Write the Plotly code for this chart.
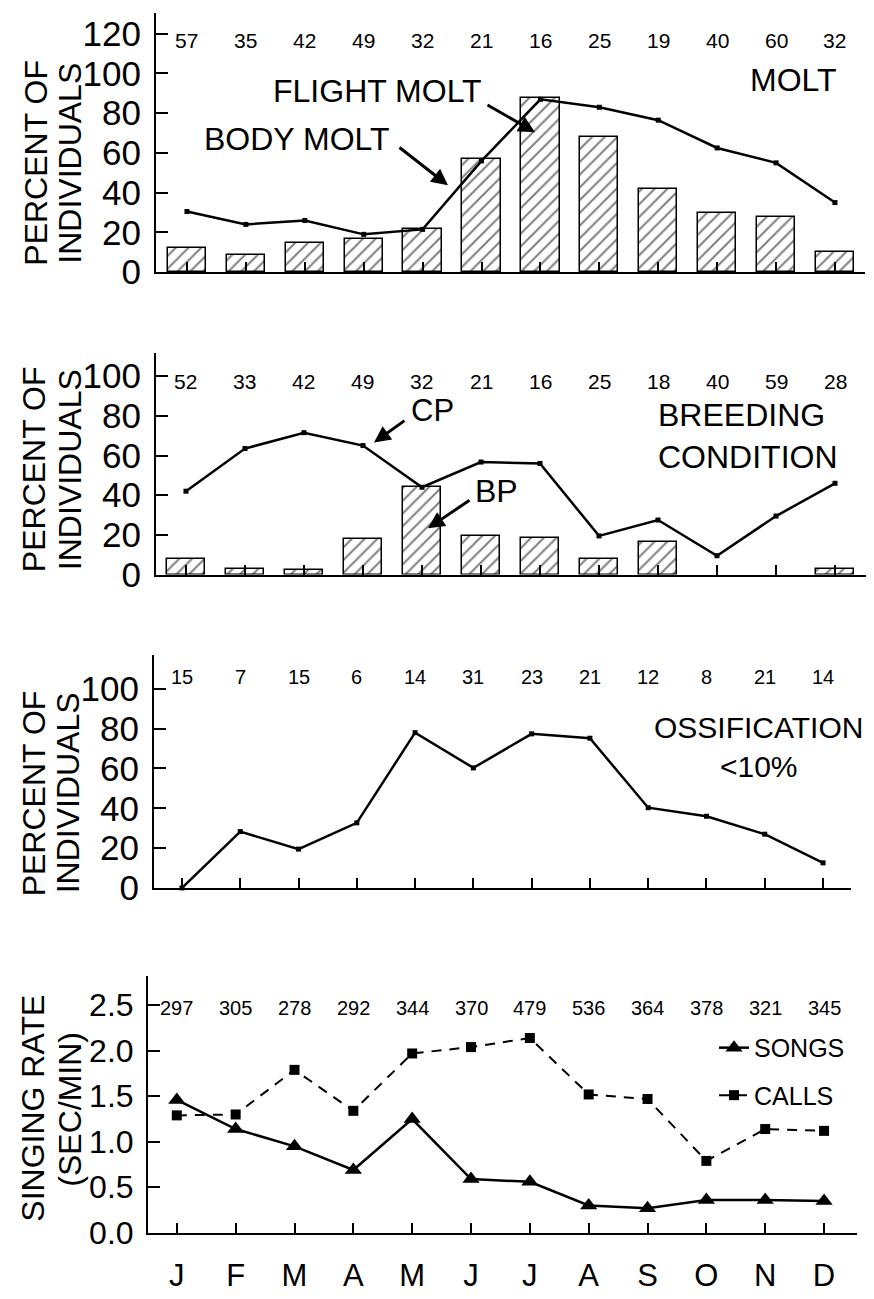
import plotly.graph_objects as go

W, H = 874, 1299
FONT = "Liberation Sans, Arial, sans-serif"

months = ["J", "F", "M", "A", "M", "J", "J", "A", "S", "O", "N", "D"]

# panel 1: molt
molt_n = [57, 35, 42, 49, 32, 21, 16, 25, 19, 40, 60, 32]
flight_molt = [12, 8.5, 14.5, 16.5, 21.5, 57, 87.5, 68, 42, 30, 28, 10]
body_molt = [30.5, 24, 26, 19, 21.5, 56, 87, 83, 76.5, 62.5, 55, 35]

# panel 2: breeding condition (no BP bar in Oct / Nov)
breed_n = [52, 33, 42, 49, 32, 21, 16, 25, 18, 40, 59, 28]
bp = [8, 3, 2.5, 18, 44, 19.5, 18.5, 8, 16.5, None, None, 3]
cp = [42, 63.5, 71.5, 65, 44, 56.7, 56, 19.5, 27.5, 9.5, 29.5, 46]

# panel 3: ossification
oss_n = [15, 7, 15, 6, 14, 31, 23, 21, 12, 8, 21, 14]
ossification = [0, 28.3, 19.5, 32.7, 78, 60.3, 77.4, 75.2, 40.3, 36, 27, 12.6]

# panel 4: singing rate
sing_n = [297, 305, 278, 292, 344, 370, 479, 536, 364, 378, 321, 345]
songs = [1.46, 1.14, 0.95, 0.69, 1.25, 0.59, 0.56, 0.30, 0.27, 0.36, 0.36, 0.35]
calls = [1.29, 1.30, 1.79, 1.34, 1.97, 2.04, 2.14, 1.52, 1.47, 0.79, 1.14, 1.12]

xs = list(range(len(months)))


def px_x(p):
    return p / W


def px_y(p):
    return 1 - p / H


fig = go.Figure()

hatch = dict(shape="/", fgcolor="black", bgcolor="white", size=9, solidity=0.22)


def bars(y, xa, ya):
    fig.add_trace(go.Bar(x=xs, y=y, width=0.65, xaxis=xa, yaxis=ya, showlegend=False,
                         marker=dict(color="white", line=dict(color="black", width=1.5),
                                     pattern=hatch)))


def line(y, xa, ya):
    fig.add_trace(go.Scatter(x=xs, y=y, xaxis=xa, yaxis=ya, mode="lines+markers",
                             showlegend=False, cliponaxis=False,
                             line=dict(color="black", width=2.5),
                             marker=dict(symbol="square", size=5, color="black")))


bars(flight_molt, "x", "y")
line(body_molt, "x", "y")
bars(bp, "x2", "y2")
line(cp, "x2", "y2")
line(ossification, "x3", "y3")

fig.add_trace(go.Scatter(x=xs, y=songs, xaxis="x4", yaxis="y4", mode="lines+markers",
                         name="SONGS", legendgroup="a", cliponaxis=False,
                         line=dict(color="black", width=2.5),
                         marker=dict(symbol="triangle-up", size=15, color="black")))
fig.add_trace(go.Scatter(x=xs, y=calls, xaxis="x4", yaxis="y4", mode="lines+markers",
                         name="CALLS", legendgroup="b", cliponaxis=False,
                         line=dict(color="black", width=2, dash="10px,8px"),
                         marker=dict(symbol="square", size=10, color="black")))

# axes: (x domain px, y bottom px, y top px, x range, y max, y ticks)
panels = [
    ((148, 857), 268, 5, [-0.526, 11.51], 130.5, list(range(0, 121, 20))),
    ((148, 858), 575, 350, [-0.508, 11.525], 111.7, list(range(0, 101, 20))),
    ((146, 843), 893, 657, [-0.48, 11.48], 116.8, list(range(0, 101, 20))),
    ((140, 849), 1243, 982, [-0.49, 11.56], 2.825, [0, 0.5, 1.0, 1.5, 2.0, 2.5]),
]

layout = {}
for i, (xd, yb, yt, xr, ymax, yticks) in enumerate(panels, start=1):
    sx = "" if i == 1 else str(i)
    last = i == 4
    layout["xaxis" + sx] = dict(
        domain=[px_x(xd[0]), px_x(xd[1])], range=xr, anchor="y" + sx,
        showline=True, linecolor="black", linewidth=2, showgrid=False, zeroline=False,
        tickvals=xs, ticktext=months if last else [""] * len(xs),
        showticklabels=last, ticks="inside", ticklen=10, tickwidth=1.5, tickcolor="black",
        ticklabelstandoff=14,
        tickfont=dict(family=FONT, size=31, color="black"),
    )
    layout["yaxis" + sx] = dict(
        domain=[px_y(yb), px_y(yt)], range=[0, ymax], anchor="x" + sx,
        showline=True, linecolor="black", linewidth=2, showgrid=False, zeroline=False,
        tickvals=yticks, ticks="inside", ticklen=12, tickwidth=1.5, tickcolor="black",
        tickformat=".1f" if last else "d", ticklabelstandoff=6,
        tickfont=dict(family=FONT, size=32 if last else 35, color="black"),
    )

ann = []


def text(s, x, y, size=32, **kw):
    ann.append(dict(text=s, x=px_x(x), y=px_y(y), xref="paper", yref="paper",
                    showarrow=False, xanchor=kw.pop("xanchor", "center"), yanchor="middle",
                    font=dict(family=FONT, size=size, color="black"), **kw))


def arrow(tail, head):
    ann.append(dict(text="", x=px_x(head[0]), y=px_y(head[1]), xref="paper", yref="paper",
                    ax=tail[0] - head[0], ay=tail[1] - head[1], showarrow=True,
                    arrowhead=2, arrowsize=1.1, arrowwidth=3, arrowcolor="black"))


# sample sizes
for ns, yref, yv, size in [(molt_n, "y", 116.6, 21), (breed_n, "y2", 97.3, 21),
                           (oss_n, "y3", 106, 20), (sing_n, "y4", 2.47, 20)]:
    xref = "x" if yref == "y" else "x" + yref[1:]
    for i, n in enumerate(ns):
        ann.append(dict(text=str(n), x=i, y=yv, xref=xref, yref=yref, showarrow=False,
                        font=dict(family=FONT, size=size, color="black")))

# axis titles
for (c1, c2), yc, (t1, t2) in [((28, 62), 157, ("PERCENT OF", "INDIVIDUALS")),
                               ((26, 62), 468, ("PERCENT OF", "INDIVIDUALS")),
                               ((26, 60), 797, ("PERCENT OF", "INDIVIDUALS")),
                               ((25, 62), 1117, ("SINGING RATE", "(SEC/MIN)"))]:
    text(t1, c1, yc, size=32, textangle=-90)
    text(t2, c2, yc, size=32, textangle=-90)

# panel labels
text("MOLT", 785, 73)
text("FLIGHT MOLT", 369, 84)
text("BODY MOLT", 289, 133)
arrow((478, 98), (527, 126))
arrow((390, 141), (440, 180))

text("CP", 424, 408, size=31, height=26)
text("BP", 488, 490, height=28)
arrow((398, 418), (366, 441))
arrow((463, 499), (420, 528))
text("BREEDING<br>CONDITION", 648, 434, xanchor="left", align="left")

text("OSSIFICATION<br><10%", 750, 750, size=30)

fig.update_layout(
    width=W, height=H, margin=dict(l=0, r=0, t=0, b=0),
    paper_bgcolor="white", plot_bgcolor="white",
    annotations=ann, bargap=0,
    legend=dict(x=px_x(706), y=px_y(1032), xanchor="left", yanchor="top",
                bgcolor="rgba(0,0,0,0)", itemwidth=30, tracegroupgap=12,
                font=dict(family=FONT, size=25, color="black")),
    **layout,
)

fig.write_html("out.html")
